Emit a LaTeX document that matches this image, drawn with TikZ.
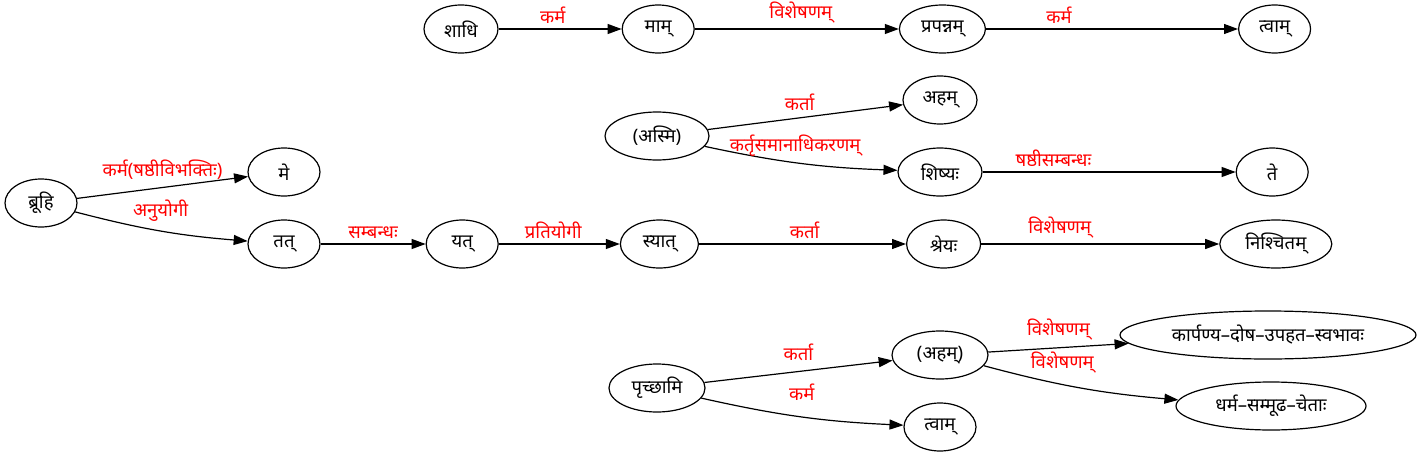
\documentclass[tikz,border=0pt]{standalone}
\usepackage{fontspec}
\setmainfont{Noto Sans}[Script=Devanagari]
\usetikzlibrary{shapes.geometric, arrows.meta, positioning}

\begin{document}
\begin{tikzpicture}[x=1pt, y=1pt, font=\fontsize{18.5}{20}\selectfont,
    word/.style={ellipse, draw=black, line width=1.2pt, minimum width=72pt, minimum height=48pt, inner xsep=-2cm, inner ysep=0pt},
    rel/.style={text=red, inner sep=1pt, above=4pt},
    arrow/.style={line width=1.2pt, -{Triangle[length=14pt, width=10pt]}}
    ]
    \useasboundingbox (0,0) rectangle (1427,-455);

    % Top row
    \node (shadhi) [word, minimum width=74pt] at (461,-29) {शाधि};
    \node (maam) [word, right=123pt of shadhi] {माम्};
    \node (prapannam) [word, minimum width=86pt, right=204pt of maam] {प्रपन्नम्};
    \node (tvaam1) [word, right=252pt of prapannam] {त्वाम्};

    % (asmi) group
    \node (asmi) [word, minimum width=104pt] at (657,-136) {(अस्मि)};
    \node (aham1) [word, minimum width=74pt] at (940,-100) {अहम्};
    \node (shishya) [word, minimum width=84pt] at (940,-172) {शिष्यः};
    \node (te) [word, right=253pt of shishya] {ते};

    % Main chain
    \node (bruhi) [word] at (41,-203) {ब्रूहि};
    \node (me) [word] at (284,-172) {मे};
    \node (tat) [word] at (284,-244) {तत्};
    \node (yat) [word, right=105pt of tat] {यत्};
    \node (syaat) [word, minimum width=78pt, right=121pt of yat] {स्यात्};
    \node (shreya) [word, minimum width=74pt, right=207pt of syaat] {श्रेयः};
    \node (nishchitam) [word, minimum width=112pt, right=238pt of shreya] {निश्चितम्};

    % Prcchaami group
    \node (prcchaami) [word, minimum width=96pt] at (657,-388) {पृच्छामि};
    \node (aham2) [word, minimum width=96pt] at (940,-355) {(अहम्)};
    \node (tvaam2) [word] at (940,-427) {त्वाम्};
    \node (kaarpanya) [word, minimum width=296pt] at (1268,-335) {कार्पण्य–दोष–उपहत–स्वभावः};
    \node (dharma) [word, minimum width=190pt] at (1271,-406) {धर्म–सम्मूढ–चेताः};

    % Arrows - top row
    \draw [arrow] (shadhi) -- node[rel, pos=0.44] {कर्म} (maam);
    \draw [arrow] (maam) -- node[rel, pos=0.52] {विशेषणम्} (prapannam);
    \draw [arrow] (prapannam) -- node[rel, pos=0.29] {कर्म} (tvaam1);

    % Arrows - (asmi)
    \draw [arrow] (asmi) -- node[rel, pos=0.47, yshift=2pt] {कर्ता} (aham1);
    \draw [arrow] (asmi) to[bend right=5] node[rel, pos=0.47, yshift=1pt] {कर्तृसमानाधिकरणम्} (shishya);
    \draw [arrow] (shishya) -- node[rel, pos=0.28] {षष्ठीसम्बन्धः} (te);

    % Arrows - main chain
    \draw [arrow] (bruhi) -- node[rel, yshift=2pt] {कर्म(षष्ठीविभक्तिः)} (me);
    \draw [arrow] (bruhi) to[bend right=5] node[rel, yshift=4pt] {अनुयोगी} (tat);
    \draw [arrow] (tat) -- node[rel] {सम्बन्धः} (yat);
    \draw [arrow] (yat) -- node[rel, pos=0.45] {प्रतियोगी} (syaat);
    \draw [arrow] (syaat) -- node[rel, pos=0.51] {कर्ता} (shreya);
    \draw [arrow] (shreya) -- node[rel, pos=0.33] {विशेषणम्} (nishchitam);

    % Arrows - prcchaami
    \draw [arrow] (prcchaami) -- node[rel, yshift=5pt] {कर्ता} (aham2);
    \draw [arrow] (prcchaami) to[bend right=5] node[rel, yshift=11pt] {कर्म} (tvaam2);
    \draw [arrow] (aham2) -- node[rel, yshift=2pt] {विशेषणम्} (kaarpanya);
    \draw [arrow] (aham2) to[bend right=5] node[rel, pos=0.4, yshift=6pt] {विशेषणम्} (dharma);

\end{tikzpicture}
\end{document}
